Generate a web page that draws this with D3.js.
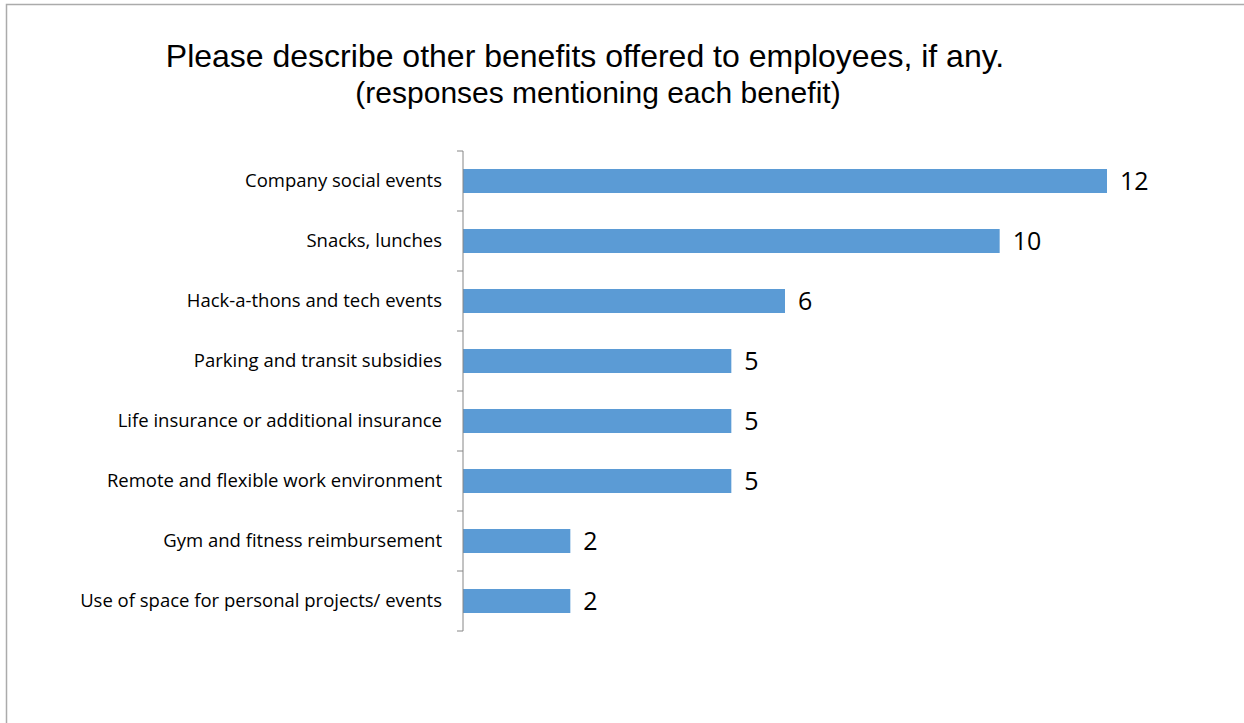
<!DOCTYPE html>
<html>
<head>
<meta charset="utf-8">
<script src="https://cdn.jsdelivr.net/npm/d3@7"></script>
<style>
  html, body { margin: 0; padding: 0; background: #fff; }
  svg { display: block; }
</style>
</head>
<body>
<svg id="chart" width="1244" height="723"></svg>
<script>
// Benefits mentioned by respondents, top to bottom
const categories = [
  "Company social events",
  "Snacks, lunches",
  "Hack-a-thons and tech events",
  "Parking and transit subsidies",
  "Life insurance or additional insurance",
  "Remote and flexible work environment",
  "Gym and fitness reimbursement",
  "Use of space for personal projects/ events"
];
const responses = [12, 10, 6, 5, 5, 5, 2, 2];
const titleLines = [
  "Please describe other benefits offered to employees, if any.",
  "(responses mentioning each benefit)"
];

const svg = d3.select("#chart");

// Chart area frame (open on the right and bottom edges of the page)
svg.append("path")
  .attr("d", "M6.5,723 L6.5,4.5 L1244,4.5")
  .attr("fill", "none")
  .attr("stroke", "#ababab")
  .attr("stroke-width", 1.5);

// Title
const title = svg.append("text")
  .attr("text-anchor", "middle")
  .attr("font-family", "Liberation Sans, Arial, sans-serif")
  .attr("fill", "#000");
title.append("tspan").attr("x", 585).attr("y", 67).attr("font-size", 32).text(titleLines[0]);
title.append("tspan").attr("x", 598).attr("y", 103).attr("font-size", 30).text(titleLines[1]);

// Scales
const x0 = 463;
const y = d3.scaleBand()
  .domain(categories)
  .range([151, 631])
  .paddingInner(0.6)
  .paddingOuter(0.3);
const x = d3.scaleLinear()
  .domain([0, 12])
  .range([x0, 1107]);

// Bars
svg.append("g").selectAll("rect")
  .data(categories)
  .join("rect")
  .attr("x", x(0))
  .attr("y", d => y(d))
  .attr("width", (d, i) => x(responses[i]) - x(0))
  .attr("height", y.bandwidth())
  .attr("fill", "#5b9bd5");

// Value labels
svg.append("g").selectAll("text")
  .data(categories)
  .join("text")
  .attr("x", (d, i) => x(responses[i]) + 13)
  .attr("y", d => y(d) + y.bandwidth() / 2)
  .attr("dy", "0.36em")
  .attr("font-family", "Open Sans, sans-serif")
  .attr("font-size", 25)
  .attr("fill", "#000")
  .text((d, i) => responses[i]);

// Category axis: ticks sit on band boundaries
const boundaries = d3.range(categories.length + 1).map(i => 151 + i * (480 / categories.length));
const axisG = svg.append("g");
axisG.append("line")
  .attr("x1", x0).attr("x2", x0)
  .attr("y1", boundaries[0]).attr("y2", boundaries[boundaries.length - 1])
  .attr("stroke", "#868686").attr("stroke-width", 1);
axisG.selectAll("line.tick")
  .data(boundaries)
  .join("line")
  .attr("class", "tick")
  .attr("x1", x0 - 6).attr("x2", x0)
  .attr("y1", d => d).attr("y2", d => d)
  .attr("stroke", "#868686").attr("stroke-width", 1);

axisG.selectAll("text")
  .data(categories)
  .join("text")
  .attr("x", 442)
  .attr("y", d => y(d) + y.bandwidth() / 2)
  .attr("dy", "0.35em")
  .attr("text-anchor", "end")
  .attr("font-family", "Open Sans, sans-serif")
  .attr("font-size", 18.5)
  .attr("fill", "#000")
  .text(d => d);
</script>
</body>
</html>
